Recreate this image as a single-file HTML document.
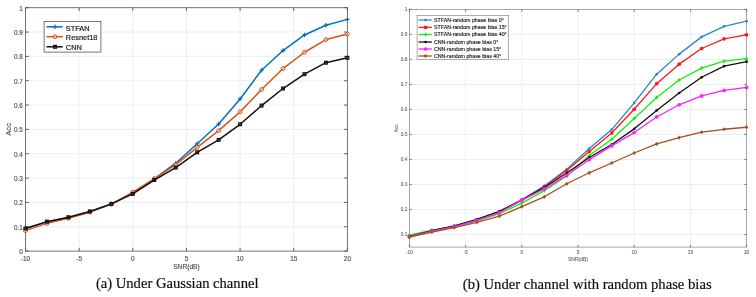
<!DOCTYPE html><html><head><meta charset="utf-8"><title>Accuracy vs SNR</title><style>html,body{margin:0;padding:0;background:#fff}svg{display:block}</style></head><body><svg width="756" height="297" viewBox="0 0 756 297" font-family="'Liberation Sans', sans-serif">
<rect width="756" height="297" fill="#fff"/>
<clipPath id="cl"><rect x="22.5" y="4.7" width="327.9" height="249.4"/></clipPath>
<rect x="25.5" y="7.7" width="321.90" height="243.40" fill="#fff"/>
<line x1="79.15" y1="7.7" x2="79.15" y2="251.1" stroke="#e2e2e2" stroke-width="0.6"/>
<line x1="132.80" y1="7.7" x2="132.80" y2="251.1" stroke="#e2e2e2" stroke-width="0.6"/>
<line x1="186.45" y1="7.7" x2="186.45" y2="251.1" stroke="#e2e2e2" stroke-width="0.6"/>
<line x1="240.10" y1="7.7" x2="240.10" y2="251.1" stroke="#e2e2e2" stroke-width="0.6"/>
<line x1="293.75" y1="7.7" x2="293.75" y2="251.1" stroke="#e2e2e2" stroke-width="0.6"/>
<line x1="25.5" y1="226.76" x2="347.4" y2="226.76" stroke="#e2e2e2" stroke-width="0.6"/>
<line x1="25.5" y1="202.42" x2="347.4" y2="202.42" stroke="#e2e2e2" stroke-width="0.6"/>
<line x1="25.5" y1="178.08" x2="347.4" y2="178.08" stroke="#e2e2e2" stroke-width="0.6"/>
<line x1="25.5" y1="153.74" x2="347.4" y2="153.74" stroke="#e2e2e2" stroke-width="0.6"/>
<line x1="25.5" y1="129.40" x2="347.4" y2="129.40" stroke="#e2e2e2" stroke-width="0.6"/>
<line x1="25.5" y1="105.06" x2="347.4" y2="105.06" stroke="#e2e2e2" stroke-width="0.6"/>
<line x1="25.5" y1="80.72" x2="347.4" y2="80.72" stroke="#e2e2e2" stroke-width="0.6"/>
<line x1="25.5" y1="56.38" x2="347.4" y2="56.38" stroke="#e2e2e2" stroke-width="0.6"/>
<line x1="25.5" y1="32.04" x2="347.4" y2="32.04" stroke="#e2e2e2" stroke-width="0.6"/>
<rect x="25.5" y="7.7" width="321.90" height="243.40" fill="none" stroke="#666" stroke-width="0.9"/>
<line x1="25.50" y1="251.1" x2="25.50" y2="247.79999999999998" stroke="#505050" stroke-width="0.9"/>
<line x1="25.50" y1="7.7" x2="25.50" y2="11.0" stroke="#505050" stroke-width="0.9"/>
<text x="25.50" y="260.6" font-size="6.4" text-anchor="middle" fill="#505050" stroke="#505050" stroke-width="0.15">-10</text>
<line x1="79.15" y1="251.1" x2="79.15" y2="247.79999999999998" stroke="#505050" stroke-width="0.9"/>
<line x1="79.15" y1="7.7" x2="79.15" y2="11.0" stroke="#505050" stroke-width="0.9"/>
<text x="79.15" y="260.6" font-size="6.4" text-anchor="middle" fill="#505050" stroke="#505050" stroke-width="0.15">-5</text>
<line x1="132.80" y1="251.1" x2="132.80" y2="247.79999999999998" stroke="#505050" stroke-width="0.9"/>
<line x1="132.80" y1="7.7" x2="132.80" y2="11.0" stroke="#505050" stroke-width="0.9"/>
<text x="132.80" y="260.6" font-size="6.4" text-anchor="middle" fill="#505050" stroke="#505050" stroke-width="0.15">0</text>
<line x1="186.45" y1="251.1" x2="186.45" y2="247.79999999999998" stroke="#505050" stroke-width="0.9"/>
<line x1="186.45" y1="7.7" x2="186.45" y2="11.0" stroke="#505050" stroke-width="0.9"/>
<text x="186.45" y="260.6" font-size="6.4" text-anchor="middle" fill="#505050" stroke="#505050" stroke-width="0.15">5</text>
<line x1="240.10" y1="251.1" x2="240.10" y2="247.79999999999998" stroke="#505050" stroke-width="0.9"/>
<line x1="240.10" y1="7.7" x2="240.10" y2="11.0" stroke="#505050" stroke-width="0.9"/>
<text x="240.10" y="260.6" font-size="6.4" text-anchor="middle" fill="#505050" stroke="#505050" stroke-width="0.15">10</text>
<line x1="293.75" y1="251.1" x2="293.75" y2="247.79999999999998" stroke="#505050" stroke-width="0.9"/>
<line x1="293.75" y1="7.7" x2="293.75" y2="11.0" stroke="#505050" stroke-width="0.9"/>
<text x="293.75" y="260.6" font-size="6.4" text-anchor="middle" fill="#505050" stroke="#505050" stroke-width="0.15">15</text>
<line x1="347.40" y1="251.1" x2="347.40" y2="247.79999999999998" stroke="#505050" stroke-width="0.9"/>
<line x1="347.40" y1="7.7" x2="347.40" y2="11.0" stroke="#505050" stroke-width="0.9"/>
<text x="347.40" y="260.6" font-size="6.4" text-anchor="middle" fill="#505050" stroke="#505050" stroke-width="0.15">20</text>
<line x1="25.5" y1="251.10" x2="28.8" y2="251.10" stroke="#505050" stroke-width="0.9"/>
<line x1="347.4" y1="251.10" x2="344.09999999999997" y2="251.10" stroke="#505050" stroke-width="0.9"/>
<text x="22.8" y="254.10" font-size="6.4" text-anchor="end" fill="#505050" stroke="#505050" stroke-width="0.15">0</text>
<line x1="25.5" y1="226.76" x2="28.8" y2="226.76" stroke="#505050" stroke-width="0.9"/>
<line x1="347.4" y1="226.76" x2="344.09999999999997" y2="226.76" stroke="#505050" stroke-width="0.9"/>
<text x="22.8" y="229.76" font-size="6.4" text-anchor="end" fill="#505050" stroke="#505050" stroke-width="0.15">0.1</text>
<line x1="25.5" y1="202.42" x2="28.8" y2="202.42" stroke="#505050" stroke-width="0.9"/>
<line x1="347.4" y1="202.42" x2="344.09999999999997" y2="202.42" stroke="#505050" stroke-width="0.9"/>
<text x="22.8" y="205.42" font-size="6.4" text-anchor="end" fill="#505050" stroke="#505050" stroke-width="0.15">0.2</text>
<line x1="25.5" y1="178.08" x2="28.8" y2="178.08" stroke="#505050" stroke-width="0.9"/>
<line x1="347.4" y1="178.08" x2="344.09999999999997" y2="178.08" stroke="#505050" stroke-width="0.9"/>
<text x="22.8" y="181.08" font-size="6.4" text-anchor="end" fill="#505050" stroke="#505050" stroke-width="0.15">0.3</text>
<line x1="25.5" y1="153.74" x2="28.8" y2="153.74" stroke="#505050" stroke-width="0.9"/>
<line x1="347.4" y1="153.74" x2="344.09999999999997" y2="153.74" stroke="#505050" stroke-width="0.9"/>
<text x="22.8" y="156.74" font-size="6.4" text-anchor="end" fill="#505050" stroke="#505050" stroke-width="0.15">0.4</text>
<line x1="25.5" y1="129.40" x2="28.8" y2="129.40" stroke="#505050" stroke-width="0.9"/>
<line x1="347.4" y1="129.40" x2="344.09999999999997" y2="129.40" stroke="#505050" stroke-width="0.9"/>
<text x="22.8" y="132.40" font-size="6.4" text-anchor="end" fill="#505050" stroke="#505050" stroke-width="0.15">0.5</text>
<line x1="25.5" y1="105.06" x2="28.8" y2="105.06" stroke="#505050" stroke-width="0.9"/>
<line x1="347.4" y1="105.06" x2="344.09999999999997" y2="105.06" stroke="#505050" stroke-width="0.9"/>
<text x="22.8" y="108.06" font-size="6.4" text-anchor="end" fill="#505050" stroke="#505050" stroke-width="0.15">0.6</text>
<line x1="25.5" y1="80.72" x2="28.8" y2="80.72" stroke="#505050" stroke-width="0.9"/>
<line x1="347.4" y1="80.72" x2="344.09999999999997" y2="80.72" stroke="#505050" stroke-width="0.9"/>
<text x="22.8" y="83.72" font-size="6.4" text-anchor="end" fill="#505050" stroke="#505050" stroke-width="0.15">0.7</text>
<line x1="25.5" y1="56.38" x2="28.8" y2="56.38" stroke="#505050" stroke-width="0.9"/>
<line x1="347.4" y1="56.38" x2="344.09999999999997" y2="56.38" stroke="#505050" stroke-width="0.9"/>
<text x="22.8" y="59.38" font-size="6.4" text-anchor="end" fill="#505050" stroke="#505050" stroke-width="0.15">0.8</text>
<line x1="25.5" y1="32.04" x2="28.8" y2="32.04" stroke="#505050" stroke-width="0.9"/>
<line x1="347.4" y1="32.04" x2="344.09999999999997" y2="32.04" stroke="#505050" stroke-width="0.9"/>
<text x="22.8" y="35.04" font-size="6.4" text-anchor="end" fill="#505050" stroke="#505050" stroke-width="0.15">0.9</text>
<line x1="25.5" y1="7.70" x2="28.8" y2="7.70" stroke="#505050" stroke-width="0.9"/>
<line x1="347.4" y1="7.70" x2="344.09999999999997" y2="7.70" stroke="#505050" stroke-width="0.9"/>
<text x="22.8" y="10.70" font-size="6.4" text-anchor="end" fill="#505050" stroke="#505050" stroke-width="0.15">1</text>
<text x="186.45" y="269.2" font-size="6.65" text-anchor="middle" fill="#505050" stroke="#505050" stroke-width="0.15">SNR(dB)</text>
<text transform="translate(11.3,129.40) rotate(-90)" font-size="7.58" text-anchor="middle" fill="#505050" stroke="#505050" stroke-width="0.15">Acc</text>
<g clip-path="url(#cl)">
<polyline points="25.50,228.46 46.96,221.89 68.42,217.51 89.88,211.67 111.34,204.12 132.80,193.17 154.26,178.81 175.72,163.23 197.18,143.76 218.64,124.05 240.10,98.97 261.56,70.25 283.02,50.54 304.48,34.96 325.94,25.22 347.40,19.38" fill="none" stroke="#0072BD" stroke-width="1.5" stroke-linejoin="round"/>
<path d="M23.25 228.46H27.75M25.50 226.21V230.71" stroke="#0072BD" stroke-width="1.2" fill="none"/>
<path d="M44.71 221.89H49.21M46.96 219.64V224.14" stroke="#0072BD" stroke-width="1.2" fill="none"/>
<path d="M66.17 217.51H70.67M68.42 215.26V219.76" stroke="#0072BD" stroke-width="1.2" fill="none"/>
<path d="M87.63 211.67H92.13M89.88 209.42V213.92" stroke="#0072BD" stroke-width="1.2" fill="none"/>
<path d="M109.09 204.12H113.59M111.34 201.87V206.37" stroke="#0072BD" stroke-width="1.2" fill="none"/>
<path d="M130.55 193.17H135.05M132.80 190.92V195.42" stroke="#0072BD" stroke-width="1.2" fill="none"/>
<path d="M152.01 178.81H156.51M154.26 176.56V181.06" stroke="#0072BD" stroke-width="1.2" fill="none"/>
<path d="M173.47 163.23H177.97M175.72 160.98V165.48" stroke="#0072BD" stroke-width="1.2" fill="none"/>
<path d="M194.93 143.76H199.43M197.18 141.51V146.01" stroke="#0072BD" stroke-width="1.2" fill="none"/>
<path d="M216.39 124.05H220.89M218.64 121.80V126.30" stroke="#0072BD" stroke-width="1.2" fill="none"/>
<path d="M237.85 98.97H242.35M240.10 96.72V101.22" stroke="#0072BD" stroke-width="1.2" fill="none"/>
<path d="M259.31 70.25H263.81M261.56 68.00V72.50" stroke="#0072BD" stroke-width="1.2" fill="none"/>
<path d="M280.77 50.54H285.27M283.02 48.29V52.79" stroke="#0072BD" stroke-width="1.2" fill="none"/>
<path d="M302.23 34.96H306.73M304.48 32.71V37.21" stroke="#0072BD" stroke-width="1.2" fill="none"/>
<path d="M323.69 25.22H328.19M325.94 22.97V27.47" stroke="#0072BD" stroke-width="1.2" fill="none"/>
<path d="M345.15 19.38H349.65M347.40 17.13V21.63" stroke="#0072BD" stroke-width="1.2" fill="none"/>
<polyline points="25.50,230.65 46.96,223.35 68.42,218.24 89.88,212.16 111.34,204.12 132.80,192.20 154.26,178.81 175.72,164.69 197.18,147.41 218.64,130.62 240.10,111.88 261.56,89.48 283.02,68.55 304.48,52.24 325.94,39.59 347.40,33.99" fill="none" stroke="#D95319" stroke-width="1.5" stroke-linejoin="round"/>
<circle cx="25.50" cy="230.65" r="1.9" stroke="#D95319" stroke-width="1.0" fill="#fff" fill-opacity="0.45"/>
<circle cx="46.96" cy="223.35" r="1.9" stroke="#D95319" stroke-width="1.0" fill="#fff" fill-opacity="0.45"/>
<circle cx="68.42" cy="218.24" r="1.9" stroke="#D95319" stroke-width="1.0" fill="#fff" fill-opacity="0.45"/>
<circle cx="89.88" cy="212.16" r="1.9" stroke="#D95319" stroke-width="1.0" fill="#fff" fill-opacity="0.45"/>
<circle cx="111.34" cy="204.12" r="1.9" stroke="#D95319" stroke-width="1.0" fill="#fff" fill-opacity="0.45"/>
<circle cx="132.80" cy="192.20" r="1.9" stroke="#D95319" stroke-width="1.0" fill="#fff" fill-opacity="0.45"/>
<circle cx="154.26" cy="178.81" r="1.9" stroke="#D95319" stroke-width="1.0" fill="#fff" fill-opacity="0.45"/>
<circle cx="175.72" cy="164.69" r="1.9" stroke="#D95319" stroke-width="1.0" fill="#fff" fill-opacity="0.45"/>
<circle cx="197.18" cy="147.41" r="1.9" stroke="#D95319" stroke-width="1.0" fill="#fff" fill-opacity="0.45"/>
<circle cx="218.64" cy="130.62" r="1.9" stroke="#D95319" stroke-width="1.0" fill="#fff" fill-opacity="0.45"/>
<circle cx="240.10" cy="111.88" r="1.9" stroke="#D95319" stroke-width="1.0" fill="#fff" fill-opacity="0.45"/>
<circle cx="261.56" cy="89.48" r="1.9" stroke="#D95319" stroke-width="1.0" fill="#fff" fill-opacity="0.45"/>
<circle cx="283.02" cy="68.55" r="1.9" stroke="#D95319" stroke-width="1.0" fill="#fff" fill-opacity="0.45"/>
<circle cx="304.48" cy="52.24" r="1.9" stroke="#D95319" stroke-width="1.0" fill="#fff" fill-opacity="0.45"/>
<circle cx="325.94" cy="39.59" r="1.9" stroke="#D95319" stroke-width="1.0" fill="#fff" fill-opacity="0.45"/>
<circle cx="347.40" cy="33.99" r="1.9" stroke="#D95319" stroke-width="1.0" fill="#fff" fill-opacity="0.45"/>
<polyline points="25.50,228.46 46.96,221.65 68.42,217.27 89.88,211.43 111.34,203.88 132.80,193.90 154.26,180.03 175.72,167.61 197.18,152.28 218.64,139.87 240.10,124.29 261.56,105.55 283.02,88.51 304.48,74.15 325.94,62.71 347.40,57.84" fill="none" stroke="#111" stroke-width="1.5" stroke-linejoin="round"/>
<rect x="24.10" y="227.06" width="2.8" height="2.8" stroke="#111" stroke-width="1.2" fill="none"/>
<rect x="45.56" y="220.25" width="2.8" height="2.8" stroke="#111" stroke-width="1.2" fill="none"/>
<rect x="67.02" y="215.87" width="2.8" height="2.8" stroke="#111" stroke-width="1.2" fill="none"/>
<rect x="88.48" y="210.03" width="2.8" height="2.8" stroke="#111" stroke-width="1.2" fill="none"/>
<rect x="109.94" y="202.48" width="2.8" height="2.8" stroke="#111" stroke-width="1.2" fill="none"/>
<rect x="131.40" y="192.50" width="2.8" height="2.8" stroke="#111" stroke-width="1.2" fill="none"/>
<rect x="152.86" y="178.63" width="2.8" height="2.8" stroke="#111" stroke-width="1.2" fill="none"/>
<rect x="174.32" y="166.21" width="2.8" height="2.8" stroke="#111" stroke-width="1.2" fill="none"/>
<rect x="195.78" y="150.88" width="2.8" height="2.8" stroke="#111" stroke-width="1.2" fill="none"/>
<rect x="217.24" y="138.47" width="2.8" height="2.8" stroke="#111" stroke-width="1.2" fill="none"/>
<rect x="238.70" y="122.89" width="2.8" height="2.8" stroke="#111" stroke-width="1.2" fill="none"/>
<rect x="260.16" y="104.15" width="2.8" height="2.8" stroke="#111" stroke-width="1.2" fill="none"/>
<rect x="281.62" y="87.11" width="2.8" height="2.8" stroke="#111" stroke-width="1.2" fill="none"/>
<rect x="303.08" y="72.75" width="2.8" height="2.8" stroke="#111" stroke-width="1.2" fill="none"/>
<rect x="324.54" y="61.31" width="2.8" height="2.8" stroke="#111" stroke-width="1.2" fill="none"/>
<rect x="346.00" y="56.44" width="2.8" height="2.8" stroke="#111" stroke-width="1.2" fill="none"/>
</g>
<rect x="44.1" y="21.4" width="56.80" height="30.70" fill="#fff" stroke="#555" stroke-width="0.8"/>
<line x1="46.4" y1="26.8" x2="62.7" y2="26.8" stroke="#0072BD" stroke-width="1.5"/>
<path d="M52.75 26.80H57.25M55.00 24.55V29.05" stroke="#0072BD" stroke-width="1.2" fill="none"/>
<text x="65.8" y="31.00" font-size="7.4" fill="#222" stroke="#222" stroke-width="0.2">STFAN</text>
<line x1="46.4" y1="36.7" x2="62.7" y2="36.7" stroke="#D95319" stroke-width="1.5"/>
<circle cx="55.00" cy="36.70" r="1.9" stroke="#D95319" stroke-width="1.0" fill="#fff" fill-opacity="0.45"/>
<text x="65.8" y="40.40" font-size="7.4" fill="#222" stroke="#222" stroke-width="0.2">Resnet18</text>
<line x1="46.4" y1="46.8" x2="62.7" y2="46.8" stroke="#111" stroke-width="1.5"/>
<rect x="53.60" y="45.40" width="2.8" height="2.8" stroke="#111" stroke-width="1.2" fill="none"/>
<text x="65.8" y="50.20" font-size="7.4" fill="#222" stroke="#222" stroke-width="0.2">CNN</text>
<clipPath id="cr"><rect x="406.4" y="6.5" width="343.20000000000005" height="243.6"/></clipPath>
<rect x="409.4" y="9.5" width="337.20" height="237.60" fill="#fff"/>
<line x1="465.60" y1="9.5" x2="465.60" y2="247.1" stroke="#e2e2e2" stroke-width="0.6"/>
<line x1="521.80" y1="9.5" x2="521.80" y2="247.1" stroke="#e2e2e2" stroke-width="0.6"/>
<line x1="578.00" y1="9.5" x2="578.00" y2="247.1" stroke="#e2e2e2" stroke-width="0.6"/>
<line x1="634.20" y1="9.5" x2="634.20" y2="247.1" stroke="#e2e2e2" stroke-width="0.6"/>
<line x1="690.40" y1="9.5" x2="690.40" y2="247.1" stroke="#e2e2e2" stroke-width="0.6"/>
<line x1="409.4" y1="234.60" x2="746.6" y2="234.60" stroke="#e2e2e2" stroke-width="0.6"/>
<line x1="409.4" y1="209.57" x2="746.6" y2="209.57" stroke="#e2e2e2" stroke-width="0.6"/>
<line x1="409.4" y1="184.54" x2="746.6" y2="184.54" stroke="#e2e2e2" stroke-width="0.6"/>
<line x1="409.4" y1="159.51" x2="746.6" y2="159.51" stroke="#e2e2e2" stroke-width="0.6"/>
<line x1="409.4" y1="134.48" x2="746.6" y2="134.48" stroke="#e2e2e2" stroke-width="0.6"/>
<line x1="409.4" y1="109.45" x2="746.6" y2="109.45" stroke="#e2e2e2" stroke-width="0.6"/>
<line x1="409.4" y1="84.42" x2="746.6" y2="84.42" stroke="#e2e2e2" stroke-width="0.6"/>
<line x1="409.4" y1="59.39" x2="746.6" y2="59.39" stroke="#e2e2e2" stroke-width="0.6"/>
<line x1="409.4" y1="34.36" x2="746.6" y2="34.36" stroke="#e2e2e2" stroke-width="0.6"/>
<rect x="409.4" y="9.5" width="337.20" height="237.60" fill="none" stroke="#808080" stroke-width="0.7"/>
<line x1="409.40" y1="247.1" x2="409.40" y2="244.7" stroke="#505050" stroke-width="0.7"/>
<line x1="409.40" y1="9.5" x2="409.40" y2="11.9" stroke="#505050" stroke-width="0.7"/>
<text x="409.40" y="253.6" font-size="4.8" text-anchor="middle" fill="#666" stroke="#666" stroke-width="0.1">-10</text>
<line x1="465.60" y1="247.1" x2="465.60" y2="244.7" stroke="#505050" stroke-width="0.7"/>
<line x1="465.60" y1="9.5" x2="465.60" y2="11.9" stroke="#505050" stroke-width="0.7"/>
<text x="465.60" y="253.6" font-size="4.8" text-anchor="middle" fill="#666" stroke="#666" stroke-width="0.1">-5</text>
<line x1="521.80" y1="247.1" x2="521.80" y2="244.7" stroke="#505050" stroke-width="0.7"/>
<line x1="521.80" y1="9.5" x2="521.80" y2="11.9" stroke="#505050" stroke-width="0.7"/>
<text x="521.80" y="253.6" font-size="4.8" text-anchor="middle" fill="#666" stroke="#666" stroke-width="0.1">0</text>
<line x1="578.00" y1="247.1" x2="578.00" y2="244.7" stroke="#505050" stroke-width="0.7"/>
<line x1="578.00" y1="9.5" x2="578.00" y2="11.9" stroke="#505050" stroke-width="0.7"/>
<text x="578.00" y="253.6" font-size="4.8" text-anchor="middle" fill="#666" stroke="#666" stroke-width="0.1">5</text>
<line x1="634.20" y1="247.1" x2="634.20" y2="244.7" stroke="#505050" stroke-width="0.7"/>
<line x1="634.20" y1="9.5" x2="634.20" y2="11.9" stroke="#505050" stroke-width="0.7"/>
<text x="634.20" y="253.6" font-size="4.8" text-anchor="middle" fill="#666" stroke="#666" stroke-width="0.1">10</text>
<line x1="690.40" y1="247.1" x2="690.40" y2="244.7" stroke="#505050" stroke-width="0.7"/>
<line x1="690.40" y1="9.5" x2="690.40" y2="11.9" stroke="#505050" stroke-width="0.7"/>
<text x="690.40" y="253.6" font-size="4.8" text-anchor="middle" fill="#666" stroke="#666" stroke-width="0.1">15</text>
<line x1="746.60" y1="247.1" x2="746.60" y2="244.7" stroke="#505050" stroke-width="0.7"/>
<line x1="746.60" y1="9.5" x2="746.60" y2="11.9" stroke="#505050" stroke-width="0.7"/>
<text x="746.60" y="253.6" font-size="4.8" text-anchor="middle" fill="#666" stroke="#666" stroke-width="0.1">20</text>
<line x1="409.4" y1="234.60" x2="411.79999999999995" y2="234.60" stroke="#505050" stroke-width="0.7"/>
<line x1="746.6" y1="234.60" x2="744.2" y2="234.60" stroke="#505050" stroke-width="0.7"/>
<text x="407.3" y="236.43" font-size="4.8" text-anchor="end" fill="#666" stroke="#666" stroke-width="0.1">0.1</text>
<line x1="409.4" y1="209.57" x2="411.79999999999995" y2="209.57" stroke="#505050" stroke-width="0.7"/>
<line x1="746.6" y1="209.57" x2="744.2" y2="209.57" stroke="#505050" stroke-width="0.7"/>
<text x="407.3" y="211.40" font-size="4.8" text-anchor="end" fill="#666" stroke="#666" stroke-width="0.1">0.2</text>
<line x1="409.4" y1="184.54" x2="411.79999999999995" y2="184.54" stroke="#505050" stroke-width="0.7"/>
<line x1="746.6" y1="184.54" x2="744.2" y2="184.54" stroke="#505050" stroke-width="0.7"/>
<text x="407.3" y="186.37" font-size="4.8" text-anchor="end" fill="#666" stroke="#666" stroke-width="0.1">0.3</text>
<line x1="409.4" y1="159.51" x2="411.79999999999995" y2="159.51" stroke="#505050" stroke-width="0.7"/>
<line x1="746.6" y1="159.51" x2="744.2" y2="159.51" stroke="#505050" stroke-width="0.7"/>
<text x="407.3" y="161.34" font-size="4.8" text-anchor="end" fill="#666" stroke="#666" stroke-width="0.1">0.4</text>
<line x1="409.4" y1="134.48" x2="411.79999999999995" y2="134.48" stroke="#505050" stroke-width="0.7"/>
<line x1="746.6" y1="134.48" x2="744.2" y2="134.48" stroke="#505050" stroke-width="0.7"/>
<text x="407.3" y="136.31" font-size="4.8" text-anchor="end" fill="#666" stroke="#666" stroke-width="0.1">0.5</text>
<line x1="409.4" y1="109.45" x2="411.79999999999995" y2="109.45" stroke="#505050" stroke-width="0.7"/>
<line x1="746.6" y1="109.45" x2="744.2" y2="109.45" stroke="#505050" stroke-width="0.7"/>
<text x="407.3" y="111.28" font-size="4.8" text-anchor="end" fill="#666" stroke="#666" stroke-width="0.1">0.6</text>
<line x1="409.4" y1="84.42" x2="411.79999999999995" y2="84.42" stroke="#505050" stroke-width="0.7"/>
<line x1="746.6" y1="84.42" x2="744.2" y2="84.42" stroke="#505050" stroke-width="0.7"/>
<text x="407.3" y="86.25" font-size="4.8" text-anchor="end" fill="#666" stroke="#666" stroke-width="0.1">0.7</text>
<line x1="409.4" y1="59.39" x2="411.79999999999995" y2="59.39" stroke="#505050" stroke-width="0.7"/>
<line x1="746.6" y1="59.39" x2="744.2" y2="59.39" stroke="#505050" stroke-width="0.7"/>
<text x="407.3" y="61.22" font-size="4.8" text-anchor="end" fill="#666" stroke="#666" stroke-width="0.1">0.8</text>
<line x1="409.4" y1="34.36" x2="411.79999999999995" y2="34.36" stroke="#505050" stroke-width="0.7"/>
<line x1="746.6" y1="34.36" x2="744.2" y2="34.36" stroke="#505050" stroke-width="0.7"/>
<text x="407.3" y="36.19" font-size="4.8" text-anchor="end" fill="#666" stroke="#666" stroke-width="0.1">0.9</text>
<line x1="409.4" y1="9.33" x2="411.79999999999995" y2="9.33" stroke="#505050" stroke-width="0.7"/>
<line x1="746.6" y1="9.33" x2="744.2" y2="9.33" stroke="#505050" stroke-width="0.7"/>
<text x="407.3" y="11.16" font-size="4.8" text-anchor="end" fill="#666" stroke="#666" stroke-width="0.1">1</text>
<text x="578.00" y="260.8" font-size="5" text-anchor="middle" fill="#666" stroke="#666" stroke-width="0.1">SNR(dB)</text>
<text transform="translate(398.4,128.30) rotate(-90)" font-size="4.70" text-anchor="middle" fill="#666" stroke="#666" stroke-width="0.1">Acc</text>
<g clip-path="url(#cr)">
<polyline points="409.40,236.35 431.88,230.60 454.36,226.09 476.84,219.58 499.32,211.57 521.80,199.81 544.28,185.92 566.76,169.27 589.24,148.50 611.72,129.57 634.20,102.94 656.68,74.16 679.16,54.13 701.64,36.86 724.12,26.35 746.60,21.22" fill="none" stroke="#2B86C8" stroke-width="1.3" stroke-linejoin="round"/>
<circle cx="409.40" cy="236.35" r="1.35" fill="#2B86C8"/>
<circle cx="431.88" cy="230.60" r="1.35" fill="#2B86C8"/>
<circle cx="454.36" cy="226.09" r="1.35" fill="#2B86C8"/>
<circle cx="476.84" cy="219.58" r="1.35" fill="#2B86C8"/>
<circle cx="499.32" cy="211.57" r="1.35" fill="#2B86C8"/>
<circle cx="521.80" cy="199.81" r="1.35" fill="#2B86C8"/>
<circle cx="544.28" cy="185.92" r="1.35" fill="#2B86C8"/>
<circle cx="566.76" cy="169.27" r="1.35" fill="#2B86C8"/>
<circle cx="589.24" cy="148.50" r="1.35" fill="#2B86C8"/>
<circle cx="611.72" cy="129.57" r="1.35" fill="#2B86C8"/>
<circle cx="634.20" cy="102.94" r="1.35" fill="#2B86C8"/>
<circle cx="656.68" cy="74.16" r="1.35" fill="#2B86C8"/>
<circle cx="679.16" cy="54.13" r="1.35" fill="#2B86C8"/>
<circle cx="701.64" cy="36.86" r="1.35" fill="#2B86C8"/>
<circle cx="724.12" cy="26.35" r="1.35" fill="#2B86C8"/>
<circle cx="746.60" cy="21.22" r="1.35" fill="#2B86C8"/>
<polyline points="409.40,236.35 431.88,230.85 454.36,226.34 476.84,220.08 499.32,212.07 521.80,200.06 544.28,187.04 566.76,170.52 589.24,151.50 611.72,132.98 634.20,109.25 656.68,83.67 679.16,64.15 701.64,48.50 724.12,38.87 746.60,34.86" fill="none" stroke="#FF1A1A" stroke-width="1.3" stroke-linejoin="round"/>
<circle cx="409.40" cy="236.35" r="1.85" fill="#FF1A1A"/>
<circle cx="431.88" cy="230.85" r="1.85" fill="#FF1A1A"/>
<circle cx="454.36" cy="226.34" r="1.85" fill="#FF1A1A"/>
<circle cx="476.84" cy="220.08" r="1.85" fill="#FF1A1A"/>
<circle cx="499.32" cy="212.07" r="1.85" fill="#FF1A1A"/>
<circle cx="521.80" cy="200.06" r="1.85" fill="#FF1A1A"/>
<circle cx="544.28" cy="187.04" r="1.85" fill="#FF1A1A"/>
<circle cx="566.76" cy="170.52" r="1.85" fill="#FF1A1A"/>
<circle cx="589.24" cy="151.50" r="1.85" fill="#FF1A1A"/>
<circle cx="611.72" cy="132.98" r="1.85" fill="#FF1A1A"/>
<circle cx="634.20" cy="109.25" r="1.85" fill="#FF1A1A"/>
<circle cx="656.68" cy="83.67" r="1.85" fill="#FF1A1A"/>
<circle cx="679.16" cy="64.15" r="1.85" fill="#FF1A1A"/>
<circle cx="701.64" cy="48.50" r="1.85" fill="#FF1A1A"/>
<circle cx="724.12" cy="38.87" r="1.85" fill="#FF1A1A"/>
<circle cx="746.60" cy="34.86" r="1.85" fill="#FF1A1A"/>
<polyline points="409.40,235.10 431.88,230.09 454.36,226.34 476.84,220.83 499.32,213.57 521.80,203.14 544.28,190.65 566.76,176.03 589.24,155.51 611.72,139.24 634.20,118.46 656.68,97.44 679.16,79.99 701.64,68.15 724.12,61.14 746.60,58.64" fill="none" stroke="#10F010" stroke-width="1.3" stroke-linejoin="round"/>
<path d="M407.61 235.10L409.40 233.00L411.19 235.10L409.40 237.20Z" fill="#10F010"/>
<path d="M430.09 230.09L431.88 227.99L433.67 230.09L431.88 232.19Z" fill="#10F010"/>
<path d="M452.57 226.34L454.36 224.24L456.15 226.34L454.36 228.44Z" fill="#10F010"/>
<path d="M475.05 220.83L476.84 218.73L478.62 220.83L476.84 222.93Z" fill="#10F010"/>
<path d="M497.53 213.57L499.32 211.47L501.11 213.57L499.32 215.67Z" fill="#10F010"/>
<path d="M520.01 203.14L521.80 201.04L523.58 203.14L521.80 205.24Z" fill="#10F010"/>
<path d="M542.50 190.65L544.28 188.55L546.06 190.65L544.28 192.75Z" fill="#10F010"/>
<path d="M564.98 176.03L566.76 173.93L568.54 176.03L566.76 178.13Z" fill="#10F010"/>
<path d="M587.46 155.51L589.24 153.41L591.02 155.51L589.24 157.61Z" fill="#10F010"/>
<path d="M609.94 139.24L611.72 137.14L613.50 139.24L611.72 141.34Z" fill="#10F010"/>
<path d="M632.42 118.46L634.20 116.36L635.99 118.46L634.20 120.56Z" fill="#10F010"/>
<path d="M654.90 97.44L656.68 95.34L658.47 97.44L656.68 99.54Z" fill="#10F010"/>
<path d="M677.38 79.99L679.16 77.89L680.95 79.99L679.16 82.09Z" fill="#10F010"/>
<path d="M699.86 68.15L701.64 66.05L703.43 68.15L701.64 70.25Z" fill="#10F010"/>
<path d="M722.34 61.14L724.12 59.04L725.90 61.14L724.12 63.24Z" fill="#10F010"/>
<path d="M744.82 58.64L746.60 56.54L748.38 58.64L746.60 60.74Z" fill="#10F010"/>
<polyline points="409.40,236.60 431.88,230.60 454.36,225.84 476.84,219.33 499.32,211.32 521.80,200.06 544.28,187.54 566.76,173.03 589.24,157.51 611.72,144.49 634.20,128.87 656.68,110.45 679.16,93.01 701.64,77.29 724.12,66.15 746.60,61.64" fill="none" stroke="#111" stroke-width="1.3" stroke-linejoin="round"/>
<circle cx="409.40" cy="236.60" r="1.35" fill="#111"/>
<circle cx="431.88" cy="230.60" r="1.35" fill="#111"/>
<circle cx="454.36" cy="225.84" r="1.35" fill="#111"/>
<circle cx="476.84" cy="219.33" r="1.35" fill="#111"/>
<circle cx="499.32" cy="211.32" r="1.35" fill="#111"/>
<circle cx="521.80" cy="200.06" r="1.35" fill="#111"/>
<circle cx="544.28" cy="187.54" r="1.35" fill="#111"/>
<circle cx="566.76" cy="173.03" r="1.35" fill="#111"/>
<circle cx="589.24" cy="157.51" r="1.35" fill="#111"/>
<circle cx="611.72" cy="144.49" r="1.35" fill="#111"/>
<circle cx="634.20" cy="128.87" r="1.35" fill="#111"/>
<circle cx="656.68" cy="110.45" r="1.35" fill="#111"/>
<circle cx="679.16" cy="93.01" r="1.35" fill="#111"/>
<circle cx="701.64" cy="77.29" r="1.35" fill="#111"/>
<circle cx="724.12" cy="66.15" r="1.35" fill="#111"/>
<circle cx="746.60" cy="61.64" r="1.35" fill="#111"/>
<polyline points="409.40,236.85 431.88,231.10 454.36,226.59 476.84,220.33 499.32,212.57 521.80,200.06 544.28,188.97 566.76,175.33 589.24,159.66 611.72,145.87 634.20,132.58 656.68,116.96 679.16,104.79 701.64,95.93 724.12,90.43 746.60,87.42" fill="none" stroke="#FF20FF" stroke-width="1.3" stroke-linejoin="round"/>
<circle cx="409.40" cy="236.85" r="1.85" fill="#FF20FF"/>
<circle cx="431.88" cy="231.10" r="1.85" fill="#FF20FF"/>
<circle cx="454.36" cy="226.59" r="1.85" fill="#FF20FF"/>
<circle cx="476.84" cy="220.33" r="1.85" fill="#FF20FF"/>
<circle cx="499.32" cy="212.57" r="1.85" fill="#FF20FF"/>
<circle cx="521.80" cy="200.06" r="1.85" fill="#FF20FF"/>
<circle cx="544.28" cy="188.97" r="1.85" fill="#FF20FF"/>
<circle cx="566.76" cy="175.33" r="1.85" fill="#FF20FF"/>
<circle cx="589.24" cy="159.66" r="1.85" fill="#FF20FF"/>
<circle cx="611.72" cy="145.87" r="1.85" fill="#FF20FF"/>
<circle cx="634.20" cy="132.58" r="1.85" fill="#FF20FF"/>
<circle cx="656.68" cy="116.96" r="1.85" fill="#FF20FF"/>
<circle cx="679.16" cy="104.79" r="1.85" fill="#FF20FF"/>
<circle cx="701.64" cy="95.93" r="1.85" fill="#FF20FF"/>
<circle cx="724.12" cy="90.43" r="1.85" fill="#FF20FF"/>
<circle cx="746.60" cy="87.42" r="1.85" fill="#FF20FF"/>
<polyline points="409.40,237.10 431.88,232.10 454.36,227.59 476.84,222.34 499.32,216.08 521.80,206.69 544.28,196.80 566.76,183.79 589.24,172.78 611.72,163.01 634.20,153.00 656.68,143.89 679.16,137.56 701.64,132.23 724.12,129.27 746.60,127.27" fill="none" stroke="#A5501E" stroke-width="1.3" stroke-linejoin="round"/>
<path d="M407.61 237.10L409.40 235.00L411.19 237.10L409.40 239.20Z" fill="#A5501E"/>
<path d="M430.09 232.10L431.88 230.00L433.67 232.10L431.88 234.20Z" fill="#A5501E"/>
<path d="M452.57 227.59L454.36 225.49L456.15 227.59L454.36 229.69Z" fill="#A5501E"/>
<path d="M475.05 222.34L476.84 220.24L478.62 222.34L476.84 224.44Z" fill="#A5501E"/>
<path d="M497.53 216.08L499.32 213.98L501.11 216.08L499.32 218.18Z" fill="#A5501E"/>
<path d="M520.01 206.69L521.80 204.59L523.58 206.69L521.80 208.79Z" fill="#A5501E"/>
<path d="M542.50 196.80L544.28 194.70L546.06 196.80L544.28 198.90Z" fill="#A5501E"/>
<path d="M564.98 183.79L566.76 181.69L568.54 183.79L566.76 185.89Z" fill="#A5501E"/>
<path d="M587.46 172.78L589.24 170.68L591.02 172.78L589.24 174.88Z" fill="#A5501E"/>
<path d="M609.94 163.01L611.72 160.91L613.50 163.01L611.72 165.11Z" fill="#A5501E"/>
<path d="M632.42 153.00L634.20 150.90L635.99 153.00L634.20 155.10Z" fill="#A5501E"/>
<path d="M654.90 143.89L656.68 141.79L658.47 143.89L656.68 145.99Z" fill="#A5501E"/>
<path d="M677.38 137.56L679.16 135.46L680.95 137.56L679.16 139.66Z" fill="#A5501E"/>
<path d="M699.86 132.23L701.64 130.13L703.43 132.23L701.64 134.33Z" fill="#A5501E"/>
<path d="M722.34 129.27L724.12 127.17L725.90 129.27L724.12 131.37Z" fill="#A5501E"/>
<path d="M744.82 127.27L746.60 125.17L748.38 127.27L746.60 129.37Z" fill="#A5501E"/>
</g>
<rect x="417.1" y="15.3" width="91.60" height="44.30" fill="#fff" stroke="#777" stroke-width="0.6"/>
<line x1="418.5" y1="20.0" x2="431.9" y2="20.0" stroke="#6FB0E0" stroke-width="1.8"/>
<circle cx="425.60" cy="20.00" r="1.35" fill="#2B86C8"/>
<text x="434" y="21.90" font-size="5.26" fill="#222" stroke="#222" stroke-width="0.15">STFAN-random phase bias 0°</text>
<line x1="418.5" y1="27.4" x2="431.9" y2="27.4" stroke="#FF1A1A" stroke-width="1.3"/>
<circle cx="425.60" cy="27.40" r="1.85" fill="#FF1A1A"/>
<text x="434" y="29.30" font-size="5.26" fill="#222" stroke="#222" stroke-width="0.15">STFAN-random phase bias 15°</text>
<line x1="418.5" y1="34.5" x2="431.9" y2="34.5" stroke="#10F010" stroke-width="1.3"/>
<path d="M423.81 34.50L425.60 32.40L427.39 34.50L425.60 36.60Z" fill="#10F010"/>
<text x="434" y="36.40" font-size="5.26" fill="#222" stroke="#222" stroke-width="0.15">STFAN-random phase bias 40°</text>
<line x1="418.5" y1="42.0" x2="431.9" y2="42.0" stroke="#111" stroke-width="1.3"/>
<circle cx="425.60" cy="42.00" r="1.35" fill="#111"/>
<text x="434" y="43.90" font-size="5.26" fill="#222" stroke="#222" stroke-width="0.15">CNN-random phase bias 0°</text>
<line x1="418.5" y1="49.0" x2="431.9" y2="49.0" stroke="#FF20FF" stroke-width="1.3"/>
<circle cx="425.60" cy="49.00" r="1.85" fill="#FF20FF"/>
<text x="434" y="50.90" font-size="5.26" fill="#222" stroke="#222" stroke-width="0.15">CNN-random phase bias 15°</text>
<line x1="418.5" y1="56.0" x2="431.9" y2="56.0" stroke="#A5501E" stroke-width="1.3"/>
<path d="M423.81 56.00L425.60 53.90L427.39 56.00L425.60 58.10Z" fill="#A5501E"/>
<text x="434" y="57.90" font-size="5.26" fill="#222" stroke="#222" stroke-width="0.15">CNN-random phase bias 40°</text>
<text x="95.9" y="288.1" font-family="'Liberation Serif', serif" font-size="14.65" fill="#111" stroke="#111" stroke-width="0.2" textLength="162.6" lengthAdjust="spacingAndGlyphs">(a) Under Gaussian channel</text>
<text x="462.8" y="289" font-family="'Liberation Serif', serif" font-size="14.65" fill="#111" stroke="#111" stroke-width="0.2" textLength="248.8" lengthAdjust="spacingAndGlyphs">(b) Under channel with random phase bias</text>
</svg></body></html>
